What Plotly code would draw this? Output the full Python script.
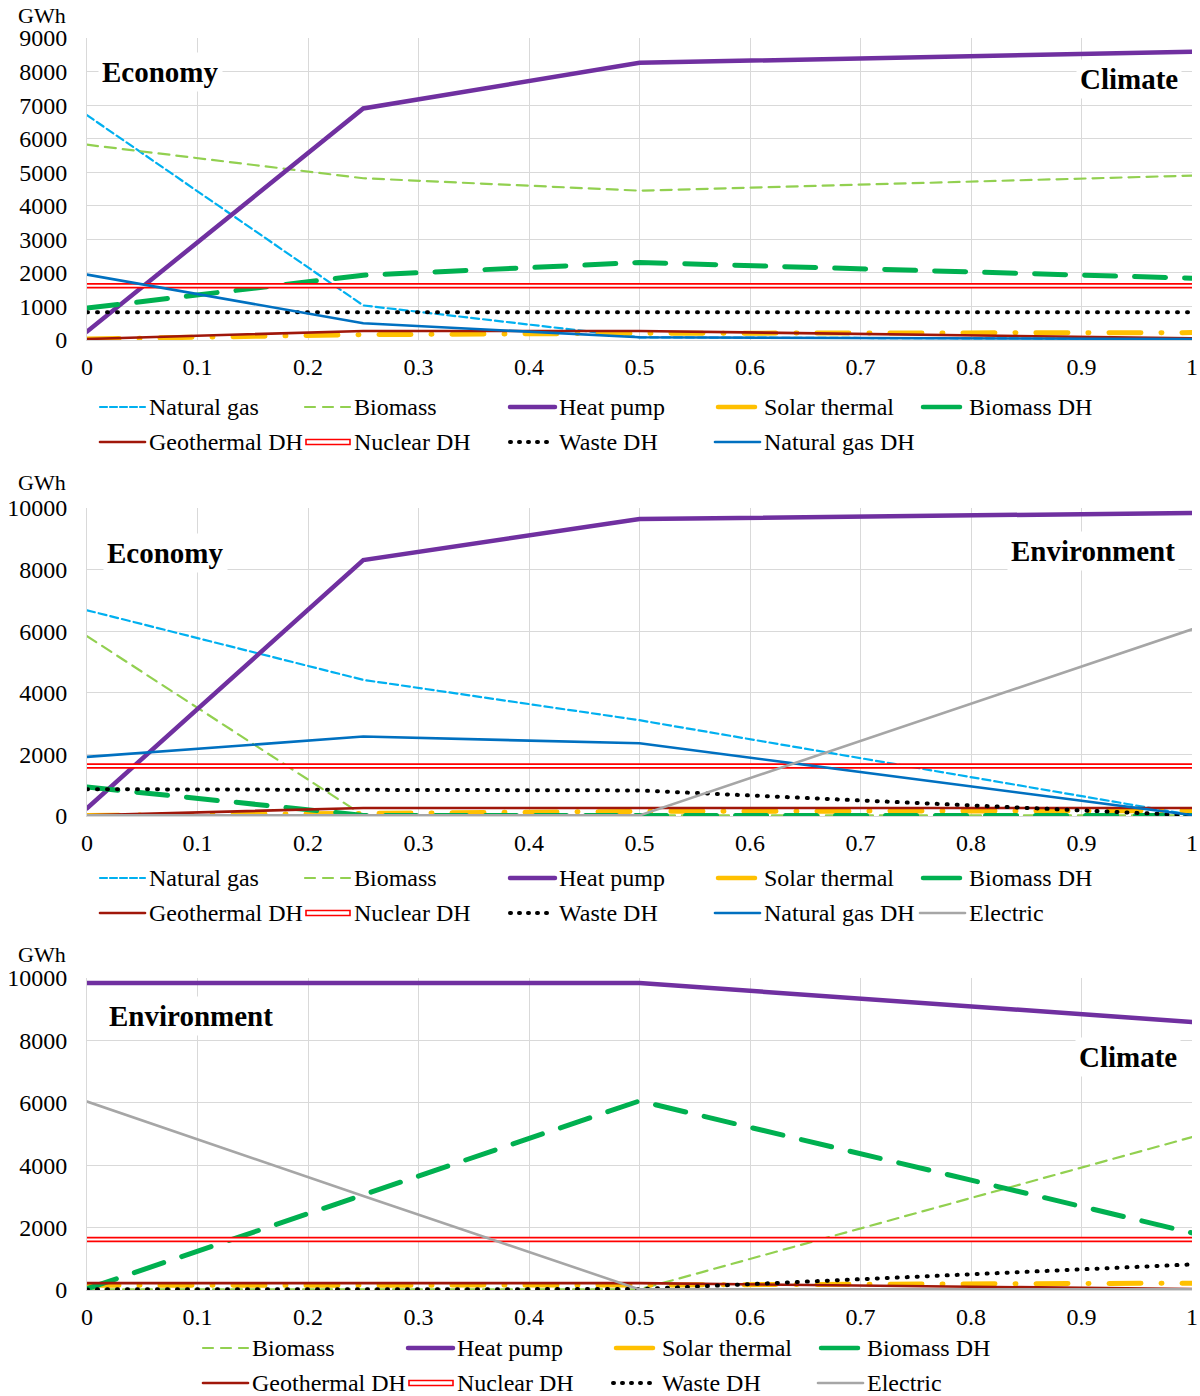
import plotly.graph_objects as go

# ---------------------------------------------------------------- data
share = [0, 0.25, 0.5, 1]
x_ticks = [0, 0.1, 0.2, 0.3, 0.4, 0.5, 0.6, 0.7, 0.8, 0.9, 1]
x_tick_labels = ["0", "0.1", "0.2", "0.3", "0.4", "0.5", "0.6", "0.7", "0.8", "0.9", "1"]

# Economy -> Climate
eco_cli_natural_gas = [6700, 1030, 80, 30]
eco_cli_biomass = [5820, 4820, 4450, 4900]
eco_cli_heat_pump = [250, 6900, 8260, 8590]
eco_cli_solar_thermal = [30, 160, 200, 220]
eco_cli_biomass_dh = [950, 1930, 2310, 1840]
eco_cli_geothermal_dh = [30, 270, 270, 50]
eco_cli_nuclear_dh = [1620, 1620, 1620, 1620]
eco_cli_waste_dh = [830, 830, 830, 830]
eco_cli_natural_gas_dh = [1950, 500, 80, 30]

# Economy -> Environment
eco_env_natural_gas = [6680, 4420, 3110, 30]
eco_env_biomass = [5840, 20, 20, 20]
eco_env_heat_pump = [250, 8310, 9640, 9840]
eco_env_solar_thermal = [20, 80, 150, 170]
eco_env_biomass_dh = [940, 20, 20, 20]
eco_env_geothermal_dh = [20, 260, 260, 260]
eco_env_nuclear_dh = [1620, 1620, 1620, 1620]
eco_env_waste_dh = [870, 850, 830, 20]
eco_env_natural_gas_dh = [1920, 2580, 2360, 30]
eco_env_electric = [20, 20, 20, 6060]

# Environment -> Climate
env_cli_biomass = [20, 20, 20, 4900]
env_cli_heat_pump = [9840, 9840, 9840, 8590]
env_cli_solar_thermal = [150, 150, 160, 220]
env_cli_biomass_dh = [40, 3040, 6060, 1830]
env_cli_geothermal_dh = [220, 220, 220, 30]
env_cli_nuclear_dh = [1620, 1620, 1620, 1620]
env_cli_waste_dh = [20, 20, 30, 820]
env_cli_electric = [6040, 3010, 20, 20]

y_ticks_top = [0, 1000, 2000, 3000, 4000, 5000, 6000, 7000, 8000, 9000]
y_ticks_low = [0, 2000, 4000, 6000, 8000, 10000]

# ---------------------------------------------------------------- styles
STYLE = {
    "Natural gas":    dict(color="#00B0F0", width=2.2, dash="8px,4px"),
    "Biomass":        dict(color="#92D050", width=2.2, dash="11px,7px"),
    "Heat pump":      dict(color="#7030A0", width=4.5, dash="solid"),
    "Solar thermal":  dict(color="#FFC000", width=5, dash="32px,20px,1px,20px"),
    "Biomass DH":     dict(color="#00B050", width=5, dash="31px,19px"),
    "Geothermal DH":  dict(color="#A0170A", width=2.6, dash="solid"),
    "Nuclear DH":     dict(color="#FF0000", width=5.5, dash="solid"),
    "Waste DH":       dict(color="#000000", width=4, dash="1px,9px"),
    "Natural gas DH": dict(color="#0070C0", width=2.6, dash="solid"),
    "Electric":       dict(color="#A6A6A6", width=2.6, dash="solid"),
}

panels = [
    dict(
        series=[("Natural gas", eco_cli_natural_gas), ("Biomass", eco_cli_biomass),
                ("Heat pump", eco_cli_heat_pump), ("Solar thermal", eco_cli_solar_thermal),
                ("Biomass DH", eco_cli_biomass_dh), ("Geothermal DH", eco_cli_geothermal_dh),
                ("Nuclear DH", eco_cli_nuclear_dh), ("Waste DH", eco_cli_waste_dh),
                ("Natural gas DH", eco_cli_natural_gas_dh)],
        top=38, bottom=340, ymax=9000, yticks=y_ticks_top,
        left_title="Economy", left_pos=(98, 72),
        right_title="Climate", right_pos=(1182, 79),
        unit_y=16,
        legend_rows=[["Natural gas", "Biomass", "Heat pump", "Solar thermal", "Biomass DH"],
                     ["Geothermal DH", "Nuclear DH", "Waste DH", "Natural gas DH"]],
        legend_x0=100, legend_y=(407, 442),
    ),
    dict(
        series=[("Natural gas", eco_env_natural_gas), ("Biomass", eco_env_biomass),
                ("Heat pump", eco_env_heat_pump), ("Solar thermal", eco_env_solar_thermal),
                ("Biomass DH", eco_env_biomass_dh), ("Geothermal DH", eco_env_geothermal_dh),
                ("Nuclear DH", eco_env_nuclear_dh), ("Waste DH", eco_env_waste_dh),
                ("Natural gas DH", eco_env_natural_gas_dh), ("Electric", eco_env_electric)],
        top=508, bottom=816, ymax=10000, yticks=y_ticks_low,
        left_title="Economy", left_pos=(103, 553),
        right_title="Environment", right_pos=(1179, 551),
        unit_y=483,
        legend_rows=[["Natural gas", "Biomass", "Heat pump", "Solar thermal", "Biomass DH"],
                     ["Geothermal DH", "Nuclear DH", "Waste DH", "Natural gas DH", "Electric"]],
        legend_x0=100, legend_y=(878, 913),
    ),
    dict(
        series=[("Biomass", env_cli_biomass), ("Heat pump", env_cli_heat_pump),
                ("Solar thermal", env_cli_solar_thermal), ("Biomass DH", env_cli_biomass_dh),
                ("Geothermal DH", env_cli_geothermal_dh), ("Nuclear DH", env_cli_nuclear_dh),
                ("Waste DH", env_cli_waste_dh), ("Electric", env_cli_electric)],
        top=978, bottom=1290, ymax=10000, yticks=y_ticks_low,
        left_title="Environment", left_pos=(105, 1016),
        right_title="Climate", right_pos=(1181, 1057),
        unit_y=954,
        legend_rows=[["Biomass", "Heat pump", "Solar thermal", "Biomass DH"],
                     ["Geothermal DH", "Nuclear DH", "Waste DH", "Electric"]],
        legend_x0=203, legend_y=(1348, 1383),
    ),
]

# ---------------------------------------------------------------- layout helpers
W, H = 1200, 1396
ML, MR = 87, 8
PW = W - ML - MR
FONT = "Liberation Serif, Times New Roman, serif"
GRID = "#D9D9D9"
COL_STEP = 205
TICK_SIZE = 24
LEGEND_SIZE = 24
TITLE_SIZE = 29


def px_x(px):
    return (px - ML) / PW


def px_y(py):
    return 1 - py / H


fig = go.Figure()
annotations = []
shapes = []

for i, p in enumerate(panels, start=1):
    xa = "x" if i == 1 else f"x{i}"
    ya = "y" if i == 1 else f"y{i}"

    for name, vals in p["series"]:
        st = STYLE[name]
        fig.add_trace(go.Scatter(
            x=share, y=vals, mode="lines", name=name, showlegend=False,
            xaxis=xa, yaxis=ya, hoverinfo="skip",
            line=dict(color=st["color"], width=st["width"], dash=st["dash"]),
        ))
        if name == "Nuclear DH":
            # white core gives the double-line look
            fig.add_trace(go.Scatter(
                x=share, y=vals, mode="lines", showlegend=False,
                xaxis=xa, yaxis=ya, hoverinfo="skip",
                line=dict(color="#FFFFFF", width=2),
            ))

    dom = [px_y(p["bottom"]), px_y(p["top"])]
    axis_x = dict(
        domain=[0, 1], range=[0, 1], anchor=ya, automargin=False,
        tickmode="array", tickvals=x_ticks, ticktext=x_tick_labels,
        showgrid=True, gridcolor=GRID, gridwidth=1, zeroline=False,
        showline=True, linecolor=GRID, linewidth=1, mirror=False,
        ticks="", ticklabelstandoff=5,
        tickfont=dict(family=FONT, size=TICK_SIZE, color="#000000"),
        fixedrange=True,
    )
    axis_y = dict(
        domain=dom, range=[0, p["ymax"]], anchor=xa, automargin=False,
        tickmode="array", tickvals=p["yticks"],
        ticktext=[str(v) for v in p["yticks"]],
        showgrid=True, gridcolor=GRID, gridwidth=1, zeroline=False,
        showline=True, linecolor=GRID, linewidth=1,
        ticks="", ticklabelstandoff=14,
        tickfont=dict(family=FONT, size=TICK_SIZE, color="#000000"),
        fixedrange=True,
    )
    fig.update_layout(**{("xaxis" if i == 1 else f"xaxis{i}"): axis_x,
                         ("yaxis" if i == 1 else f"yaxis{i}"): axis_y})

    # unit label
    annotations.append(dict(
        text="GWh", xref="paper", yref="paper", x=px_x(42), y=px_y(p["unit_y"]),
        xanchor="center", yanchor="middle", showarrow=False,
        font=dict(family=FONT, size=22, color="#000000"),
    ))
    # corner titles
    lx, ly = p["left_pos"]
    annotations.append(dict(
        text=f"<b>{p['left_title']}</b>", xref="paper", yref="paper",
        x=px_x(lx), y=px_y(ly), xanchor="left", yanchor="middle", showarrow=False,
        bgcolor="#FFFFFF", borderpad=3,
        font=dict(family=FONT, size=TITLE_SIZE, color="#000000"),
    ))
    rx, ry = p["right_pos"]
    annotations.append(dict(
        text=f"<b>{p['right_title']}</b>", xref="paper", yref="paper",
        x=px_x(rx), y=px_y(ry), xanchor="right", yanchor="middle", showarrow=False,
        bgcolor="#FFFFFF", borderpad=3,
        font=dict(family=FONT, size=TITLE_SIZE, color="#000000"),
    ))

    # legend drawn below each panel
    for r, row in enumerate(p["legend_rows"]):
        yy = px_y(p["legend_y"][r])
        for c, name in enumerate(row):
            st = STYLE[name]
            x0 = p["legend_x0"] + c * COL_STEP
            if name == "Nuclear DH":
                shapes.append(dict(
                    type="rect", xref="paper", yref="paper",
                    x0=px_x(x0 + 1), x1=px_x(x0 + 45),
                    y0=yy - 2.5 / H, y1=yy + 2.5 / H,
                    line=dict(color="#FF0000", width=1.6), fillcolor="#FFFFFF",
                ))
            else:
                thick = st["width"] >= 4.5
                s0, s1 = (x0 + 3, x0 + 40) if thick and name != "Heat pump" else (x0, x0 + 45)
                dash = st["dash"]
                if name == "Natural gas":
                    dash = "7px,3px"
                elif name == "Biomass":
                    dash = "10px,8px"
                elif name == "Waste DH":
                    dash = "1px,8px"
                elif name in ("Solar thermal", "Biomass DH"):
                    dash = "solid"
                shapes.append(dict(
                    type="line", xref="paper", yref="paper",
                    x0=px_x(s0), x1=px_x(s1), y0=yy, y1=yy,
                    line=dict(color=st["color"], width=min(st["width"], 4.5), dash=dash),
                ))
            annotations.append(dict(
                text=name, xref="paper", yref="paper",
                x=px_x(x0 + 47), y=yy, xanchor="left", yanchor="middle", showarrow=False,
                font=dict(family=FONT, size=LEGEND_SIZE, color="#000000"),
            ))

fig.update_layout(
    template="none",
    width=W, height=H,
    margin=dict(l=ML, r=MR, t=0, b=0, pad=0, autoexpand=False),
    paper_bgcolor="#FFFFFF", plot_bgcolor="#FFFFFF",
    showlegend=False,
    annotations=annotations,
    shapes=shapes,
    font=dict(family=FONT, size=22, color="#000000"),
)

# round line ends so dotted and dashed strokes get soft caps
round_caps = """
var gd = document.getElementById('{plot_id}');
function roundCaps() {
  gd.querySelectorAll('.scatterlayer path.js-line, .shapelayer path').forEach(function (p) {
    p.style.strokeLinecap = 'round';
  });
}
roundCaps();
gd.on('plotly_afterplot', roundCaps);
"""

fig.write_html("out.html", post_script=round_caps, config={"displayModeBar": False})
